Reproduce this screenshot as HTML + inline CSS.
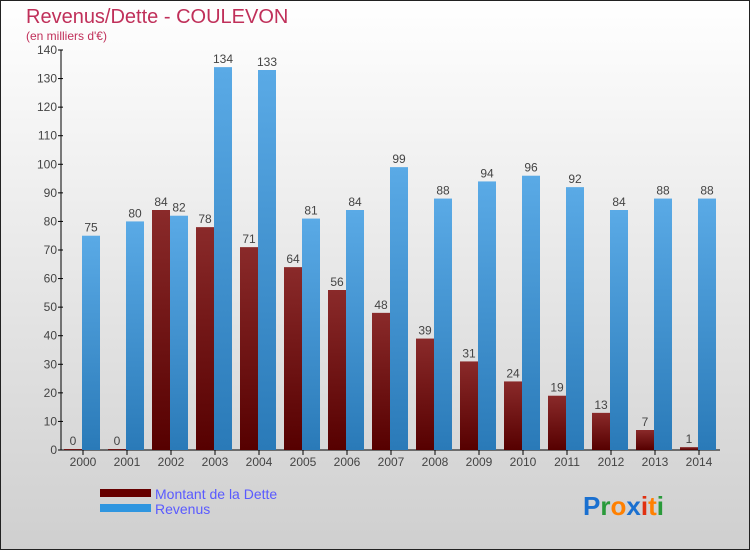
<!DOCTYPE html>
<html><head><meta charset="utf-8"><style>
body{margin:0;}
#c{position:relative;width:750px;height:550px;overflow:hidden;font-family:"Liberation Sans",sans-serif;}
</style></head><body>
<div id="c">
<svg width="750" height="550" xmlns="http://www.w3.org/2000/svg" id="svg">
<defs>
<linearGradient id="bg" x1="0" y1="0" x2="0" y2="1"><stop offset="0" stop-color="#ffffff"/><stop offset="1" stop-color="#cfcfcf"/></linearGradient>
<linearGradient id="gd" x1="0" y1="0" x2="0" y2="1"><stop offset="0" stop-color="#8a2a2a"/><stop offset="1" stop-color="#560000"/></linearGradient>
<linearGradient id="gr" x1="0" y1="0" x2="0" y2="1"><stop offset="0" stop-color="#5aaae6"/><stop offset="1" stop-color="#2a7ab8"/></linearGradient>
</defs>
<rect x="0.5" y="0.5" width="749" height="549" fill="url(#bg)" stroke="#222"/>
<text x="26" y="23" font-size="20" fill="#c0305a">Revenus/Dette - COULEVON</text>
<text x="26" y="40" font-size="12" fill="#c0305a">(en milliers d'€)</text>
<g id="axes"></g>
<g id="bars"></g>
<g>
<rect x="100" y="489" width="51" height="8" fill="#660000"/>
<text x="155" y="499" font-size="14" fill="#5a5aff">Montant de la Dette</text>
<rect x="100" y="504" width="51" height="8" fill="#2f96e0"/>
<text x="155" y="514" font-size="14" fill="#5a5aff">Revenus</text>
</g>
<g font-size="26" font-weight="bold">
<text x="583" y="515"><tspan fill="#1a70d0">P</tspan><tspan fill="#2a9a3a">r</tspan><tspan fill="#ff8000">o</tspan><tspan fill="#1a70d0">x</tspan><tspan fill="#e03010">i</tspan><tspan fill="#ff8000">t</tspan><tspan fill="#2a9a3a">i</tspan></text>
</g>
</svg>
</div>
<script>
const years=["2000","2001","2002","2003","2004","2005","2006","2007","2008","2009","2010","2011","2012","2013","2014"];
const debt=[0,0,84,78,71,64,56,48,39,31,24,19,13,7,1];
const revenue=[75,80,82,134,133,81,84,99,88,94,96,92,84,88,88];
const ticks=[0,10,20,30,40,50,60,70,80,90,100,110,120,130,140];
const NS="http://www.w3.org/2000/svg";
function y(v){return 450-v*400/140;}
function xc(i){return 83+i*44;}
function mk(tag,attrs,parent){const e=document.createElementNS(NS,tag);for(const k in attrs)e.setAttribute(k,attrs[k]);parent.appendChild(e);return e;}
const ax=document.getElementById('axes'),bars=document.getElementById('bars');
let l=mk('line',{x1:61,y1:50,x2:61,y2:450,stroke:'#000'},ax);


l=mk('line',{x1:61,y1:450,x2:720,y2:450,stroke:'#000'},ax);


ticks.forEach(t=>{
 mk('line',{x1:58,y1:y(t),x2:63,y2:y(t),stroke:'#000'},ax);
 const tx=mk('text',{x:57,y:y(t)+4,'font-size':12,'text-anchor':'end',fill:'#444'},ax);
 tx.textContent=t;
 
 
});
years.forEach((yr,i)=>{
 const c=xc(i);
 mk('line',{x1:c,y1:450,x2:c,y2:455,stroke:'#000'},ax);
 const tx=mk('text',{x:c,y:466,'font-size':12,'text-anchor':'middle',fill:'#444'},ax);
 tx.textContent=yr;
 
 
 const d=debt[i],r=revenue[i];
 const bd=mk('rect',{x:c-19,y:y(d)-(d===0?1:0),width:18,height:Math.max(450-y(d),1),fill:'url(#gd)'},bars);
 
 
 const ld=mk('text',{x:c-10,y:y(d)-4-(d===0?1:0),'font-size':12,'text-anchor':'middle',fill:'#444'},bars);
 ld.textContent=d;
 
 
 const br=mk('rect',{x:c-1,y:y(r),width:18,height:450-y(r),fill:'url(#gr)'},bars);
 
 
 const lr=mk('text',{x:c+8,y:y(r)-4,'font-size':12,'text-anchor':'middle',fill:'#444'},bars);
 lr.textContent=r;
 
 
});
</script>
</body></html>
